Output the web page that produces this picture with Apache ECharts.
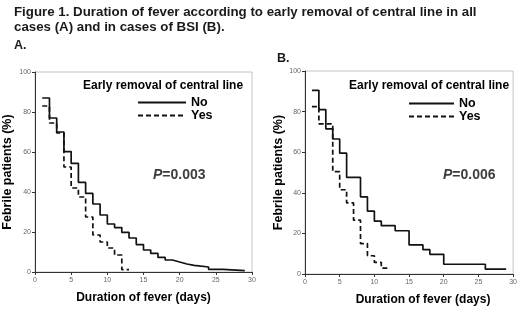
<!DOCTYPE html>
<html>
<head>
<meta charset="utf-8">
<script src="https://cdn.jsdelivr.net/npm/echarts@6/dist/echarts.min.js"></script>
<style>
  html, body { margin: 0; padding: 0; background: #fff; }
  #chart { width: 520px; height: 311px; }
</style>
</head>
<body>
<div id="chart"></div>
<script>
// Kaplan-Meier style step curves (time in days, % febrile)
const timesANo = [1, 2, 3, 4, 5, 6, 7, 8, 9, 10, 11, 12, 13, 14, 15, 16, 17, 18, 19, 20, 21, 22, 24, 26, 29];
const valuesANo = [87, 77, 70, 60.2, 54.3, 44.8, 39.3, 34, 28.5, 24, 22.2, 19.8, 17, 13.7, 11, 9.3, 7.3, 6, 5, 4, 3.3, 2.5, 1.3, 0.7, 0.7];
const timesAYes = [1, 2, 3, 4, 5, 6, 7, 8, 9, 10, 11, 12, 13];
const valuesAYes = [83, 74.5, 69.5, 52.5, 42, 37.5, 27.5, 18.5, 15, 12, 8.5, 1.2, 1.2];

const timesBNo = [1, 2, 3, 4, 5, 6, 8, 9, 10, 11, 13, 15, 17, 18, 20, 26, 29];
const valuesBNo = [90.5, 81, 71.5, 66.5, 59.5, 47.6, 38, 31, 26, 23.8, 21.3, 14.3, 12, 9.7, 4.8, 2.4, 2.4];
const timesBYes = [1, 2, 4, 5, 6, 7, 8, 9, 10, 11, 12];
const valuesBYes = [82.5, 74, 50.4, 41.5, 35, 26.5, 15, 9, 5.7, 2.9, 2.9];

const pValues = ['0.003', '0.006'];
const groupNames = ['No', 'Yes'];

const FONT = "'Liberation Sans', Arial, sans-serif";

const toPairs = (xs, ys) => xs.map((x, i) => [x, ys[i]]);

const chart = echarts.init(document.getElementById('chart'), null, { renderer: 'canvas' });

const grids = [
  { left: 33, top: 72, width: 219, height: 200 },
  { left: 305, top: 71, width: 210, height: 203 }
];

const makeX = (gridIndex, shift) => ({
  type: 'value',
  gridIndex,
  min: 0,
  max: 30,
  interval: 5,
  name: 'Duration of fever (days)',
  nameLocation: 'middle',
  nameGap: 20,
  nameTextStyle: { fontFamily: FONT, fontWeight: 'bold', fontSize: 12, color: '#000', padding: [0, 0, 0, shift] },
  axisLine: { lineStyle: { color: '#333', width: 1 } },
  axisTick: { show: true, length: 3, lineStyle: { color: '#333' } },
  axisLabel: { fontFamily: FONT, fontSize: 7, color: '#666', margin: 5 },
  splitLine: { show: false }
});

const makeY = (gridIndex, gap) => ({
  type: 'value',
  gridIndex,
  min: 0,
  max: 100,
  interval: 20,
  name: 'Febrile patients (%)',
  nameLocation: 'middle',
  nameGap: gap,
  nameTextStyle: { fontFamily: FONT, fontWeight: 'bold', fontSize: 12.5, color: '#000' },
  axisLine: { show: true, lineStyle: { color: '#333', width: 1 } },
  axisTick: { show: true, length: 3, lineStyle: { color: '#333' } },
  axisLabel: { fontFamily: FONT, fontSize: 7, color: '#666', margin: 4 },
  splitLine: { show: false }
});

const makeSeries = (name, xs, ys, idx, dashed) => ({
  name,
  type: 'line',
  step: 'end',
  xAxisIndex: idx,
  yAxisIndex: idx,
  data: toPairs(xs, ys),
  symbol: 'none',
  showSymbol: false,
  animation: false,
  lineStyle: { color: '#111', width: 1.7, type: dashed ? [5, 3] : 'solid' },
  itemStyle: { color: '#111' }
});

const legendTitleStyle = { fontFamily: FONT, fontWeight: 'bold', fontSize: 12, color: '#000' };
const legendTextStyle = { fontFamily: FONT, fontWeight: 'bold', fontSize: 12.5, color: '#000', lineHeight: 12 };

const option = {
  backgroundColor: '#fff',
  animation: false,
  title: [
    {
      text: 'Figure 1. Duration of fever according to early removal of central line in all\ncases (A) and in cases of BSI (B).',
      left: 9, top: 0,
      textStyle: { fontFamily: FONT, fontWeight: 'bold', fontSize: 13.3, lineHeight: 15, color: '#1a1a1a' }
    },
    { text: 'A.', left: 9, top: 34, textStyle: { fontFamily: FONT, fontWeight: 'bold', fontSize: 12.5, color: '#1a1a1a' } },
    { text: 'B.', left: 272, top: 47, textStyle: { fontFamily: FONT, fontWeight: 'bold', fontSize: 12.5, color: '#1a1a1a' } },
    { text: 'Early removal of central line', left: 83, top: 80, padding: 0, textStyle: legendTitleStyle },
    { text: 'Early removal of central line', left: 349, top: 80, padding: 0, textStyle: legendTitleStyle },
    {
      text: '{i|P}{n|=' + pValues[0] + '}', left: 153, top: 168, padding: 0,
      textStyle: { rich: { i: { fontFamily: FONT, fontStyle: 'italic', fontWeight: 'bold', fontSize: 14 }, n: { fontFamily: FONT, fontWeight: 'bold', fontSize: 14 } } }
    },
    {
      text: '{i|P}{n|=' + pValues[1] + '}', left: 443, top: 168, padding: 0,
      textStyle: { rich: { i: { fontFamily: FONT, fontStyle: 'italic', fontWeight: 'bold', fontSize: 14 }, n: { fontFamily: FONT, fontWeight: 'bold', fontSize: 14 } } }
    }
  ],
  legend: [
    {
      left: 137, top: 96, orient: 'vertical', padding: 0,
      itemWidth: 48, itemHeight: 10, itemGap: 0,
      data: groupNames,
      selectedMode: false,
      itemStyle: { opacity: 0 },
      textStyle: legendTextStyle
    },
    {
      left: 408, top: 97, orient: 'vertical', padding: 0,
      itemWidth: 45, itemHeight: 10, itemGap: 0,
      data: groupNames,
      selectedMode: false,
      itemStyle: { opacity: 0 },
      textStyle: legendTextStyle
    }
  ],
  grid: grids.map(g => Object.assign({ show: true, borderColor: '#c4c4c4', borderWidth: 1, backgroundColor: 'transparent' }, g)),
  xAxis: [makeX(0, 0), makeX(1, 28)],
  yAxis: [makeY(0, 21), makeY(1, 16)],
  series: [
    makeSeries(groupNames[0], timesANo, valuesANo, 0, false),
    makeSeries(groupNames[1], timesAYes, valuesAYes, 0, true),
    makeSeries(groupNames[0], timesBNo, valuesBNo, 1, false),
    makeSeries(groupNames[1], timesBYes, valuesBYes, 1, true)
  ]
};

chart.setOption(option);
window.addEventListener('resize', () => chart.resize());
</script>
</body>
</html>
